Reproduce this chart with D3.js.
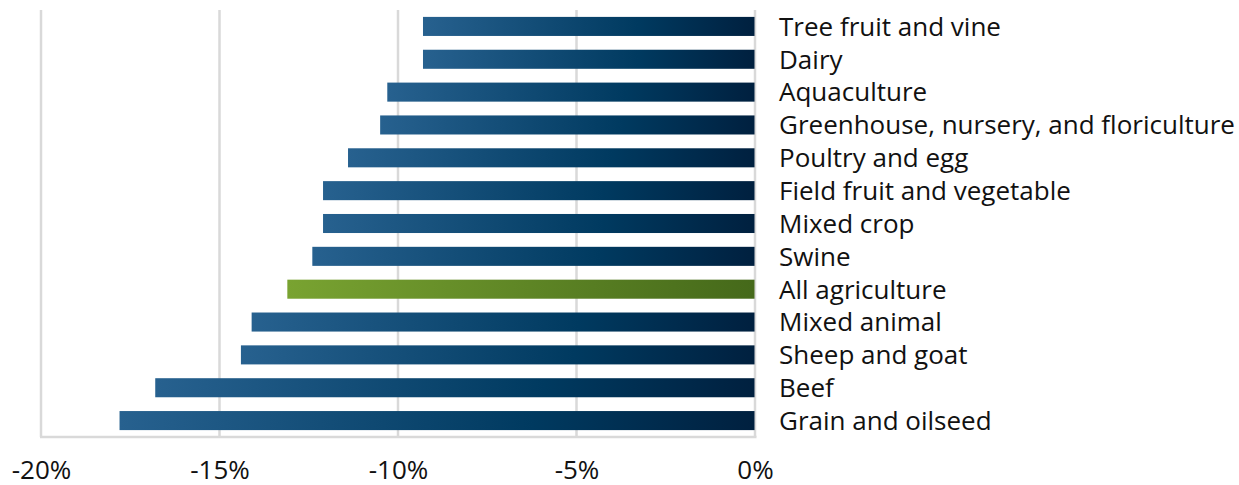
<!DOCTYPE html>
<html>
<head>
<meta charset="utf-8">
<script src="https://cdn.jsdelivr.net/npm/d3@7"></script>
<style>
  body { margin: 0; background: #fff; }
  svg { display: block; overflow: visible; font-family: "Open Sans", "Noto Sans", sans-serif; }
</style>
</head>
<body>
<div id="chart"></div>
<script>
const sectors = [
  "Tree fruit and vine", "Dairy", "Aquaculture", "Greenhouse, nursery, and floriculture",
  "Poultry and egg", "Field fruit and vegetable", "Mixed crop", "Swine",
  "All agriculture", "Mixed animal", "Sheep and goat", "Beef", "Grain and oilseed"
];
const changes = [-9.3, -9.3, -10.3, -10.5, -11.4, -12.1, -12.1, -12.4, -13.1, -14.1, -14.4, -16.8, -17.8];
const ticks = [-20, -15, -10, -5, 0];
const highlight = "All agriculture";

const data = sectors.map((s, i) => ({ sector: s, value: changes[i] }));

const width = 1239;
const height = 485;
const margin = { top: 10, right: 484, bottom: 48, left: 41 };
const innerWidth = width - margin.left - margin.right;
const innerHeight = height - margin.top - margin.bottom;

const xScale = d3.scaleLinear()
  .domain([-20, 0])
  .range([0, innerWidth]);

const yScale = d3.scaleBand()
  .domain(sectors)
  .range([0, innerHeight])
  .paddingInner(0.42)
  .paddingOuter(0.21);

const svg = d3.select("#chart")
  .append("svg")
    .attr("width", width)
    .attr("height", height);

// gradients for the bars
const defs = svg.append("defs");
const blue = defs.append("linearGradient").attr("id", "grad-blue");
blue.append("stop").attr("offset", "0%").attr("stop-color", "#27618f");
blue.append("stop").attr("offset", "65%").attr("stop-color", "#003a60");
blue.append("stop").attr("offset", "100%").attr("stop-color", "#00203f");
const green = defs.append("linearGradient").attr("id", "grad-green");
green.append("stop").attr("offset", "0%").attr("stop-color", "#79a331");
green.append("stop").attr("offset", "100%").attr("stop-color", "#45691a");

const innerChart = svg.append("g")
  .attr("transform", `translate(${margin.left}, ${margin.top})`);

// vertical gridlines
innerChart.selectAll(".grid")
  .data(ticks)
  .join("line")
    .attr("class", "grid")
    .attr("x1", (d) => xScale(d))
    .attr("x2", (d) => xScale(d))
    .attr("y1", 0)
    .attr("y2", innerHeight)
    .attr("stroke", "#d9d9d9")
    .attr("stroke-width", 2.5);

// bottom axis line
innerChart.append("line")
  .attr("x1", xScale(-20) - 1)
  .attr("x2", xScale(0) + 1.5)
  .attr("y1", innerHeight)
  .attr("y2", innerHeight)
  .attr("stroke", "#d9d9d9")
  .attr("stroke-width", 2.5);

// bars
innerChart.selectAll(".bar")
  .data(data)
  .join("rect")
    .attr("class", "bar")
    .attr("x", (d) => xScale(d.value))
    .attr("width", (d) => xScale(0) - xScale(d.value) - 0.5)
    .attr("y", (d) => yScale(d.sector))
    .attr("height", yScale.bandwidth())
    .attr("fill", (d) => d.sector === highlight ? "url(#grad-green)" : "url(#grad-blue)");

// category labels
innerChart.selectAll(".label")
  .data(data)
  .join("text")
    .attr("class", "label")
    .attr("x", xScale(0) + 24)
    .attr("y", (d) => yScale(d.sector) + yScale.bandwidth() / 2)
    .attr("dy", "0.36em")
    .attr("font-size", 26)
    .attr("fill", "#111")
    .text((d) => d.sector);

// x axis labels
const xAxis = innerChart.append("g")
  .attr("transform", `translate(0, ${innerHeight})`)
  .call(d3.axisBottom(xScale).tickValues(ticks).tickSize(0).tickPadding(23.5).tickFormat((d) => d + "%"));
xAxis.select(".domain").remove();
xAxis.selectAll("text")
  .attr("font-size", 26)
  .attr("font-family", "'Open Sans', 'Noto Sans', sans-serif")
  .attr("fill", "#111");
</script>
</body>
</html>
